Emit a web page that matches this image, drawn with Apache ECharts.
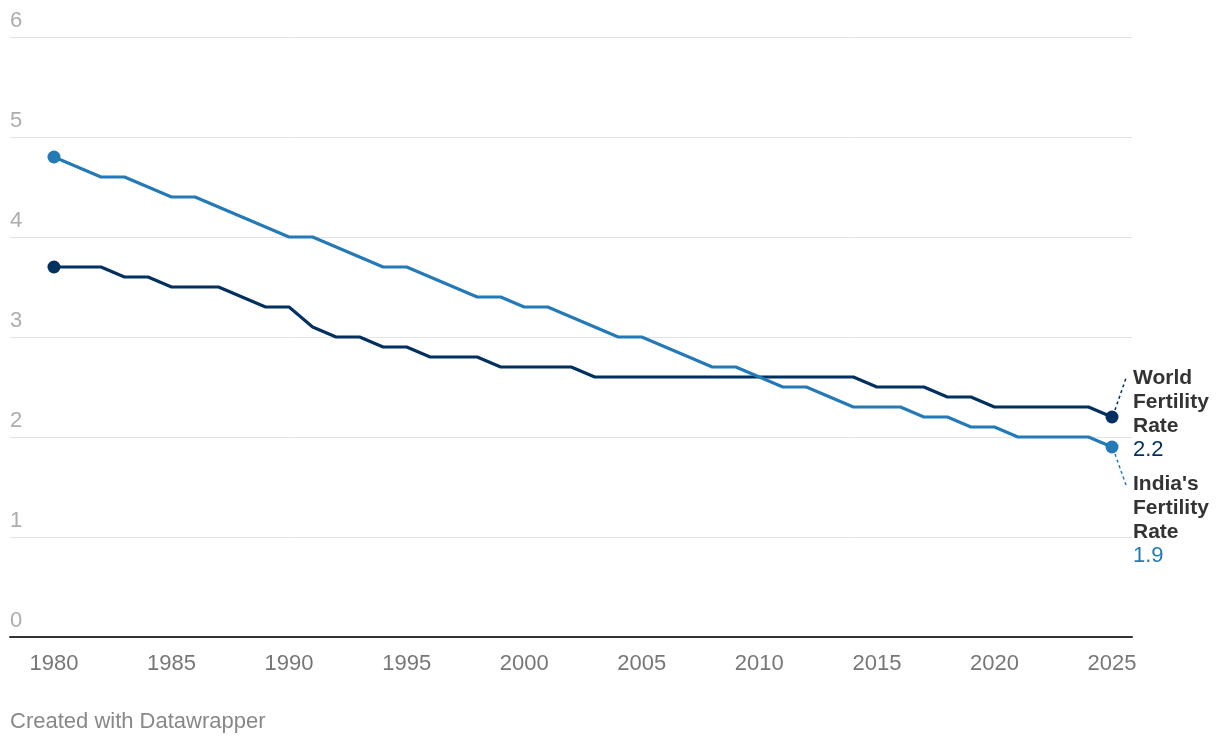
<!DOCTYPE html>
<html>
<head>
<meta charset="utf-8">
<script src="https://cdn.jsdelivr.net/npm/echarts@6/dist/echarts.min.js"></script>
<style>
html,body{margin:0;padding:0;background:#fff;}
#chart{width:1220px;height:746px;}
</style>
</head>
<body>
<div id="chart"></div>
<script>
const years = [1980,1981,1982,1983,1984,1985,1986,1987,1988,1989,1990,1991,1992,1993,1994,1995,1996,1997,1998,1999,2000,2001,2002,2003,2004,2005,2006,2007,2008,2009,2010,2011,2012,2013,2014,2015,2016,2017,2018,2019,2020,2021,2022,2023,2024,2025];
const worldRate = [3.7,3.7,3.7,3.6,3.6,3.5,3.5,3.5,3.4,3.3,3.3,3.1,3.0,3.0,2.9,2.9,2.8,2.8,2.8,2.7,2.7,2.7,2.7,2.6,2.6,2.6,2.6,2.6,2.6,2.6,2.6,2.6,2.6,2.6,2.6,2.5,2.5,2.5,2.4,2.4,2.3,2.3,2.3,2.3,2.3,2.2];
const indiaRate = [4.8,4.7,4.6,4.6,4.5,4.4,4.4,4.3,4.2,4.1,4.0,4.0,3.9,3.8,3.7,3.7,3.6,3.5,3.4,3.4,3.3,3.3,3.2,3.1,3.0,3.0,2.9,2.8,2.7,2.7,2.6,2.5,2.5,2.4,2.3,2.3,2.3,2.2,2.2,2.1,2.1,2.0,2.0,2.0,2.0,1.9];
const xTickLabels = [1980,1985,1990,1995,2000,2005,2010,2015,2020,2025];
const yTicks = [0,1,2,3,4,5,6];
const seriesNames = ["World\nFertility\nRate", "India's\nFertility\nRate"];

const FONT = "'Liberation Sans', Arial, Helvetica, sans-serif";
const WORLD_C = '#00305f';
const INDIA_C = '#2479b7';

function buildData(vals) {
  return vals.map((v, i) => ({
    value: [years[i], v],
    symbol: (i === 0 || i === vals.length - 1) ? 'circle' : 'none'
  }));
}

const chart = echarts.init(document.getElementById('chart'), null, {renderer: 'canvas'});
const option = {
  animation: false,
  backgroundColor: '#fff',
  grid: {left: 10, right: 88, top: 37, bottom: 109, containLabel: false},
  xAxis: {
    type: 'value',
    min: 1978.13,
    max: 2025.85,
    axisLine: {show: true, onZero: false, lineStyle: {color: '#333', width: 2}},
    axisTick: {show: false},
    splitLine: {show: false},
    axisLabel: {
      customValues: xTickLabels,
      color: '#777',
      fontSize: 22,
      fontFamily: FONT,
      margin: 16,
      formatter: v => String(v)
    }
  },
  yAxis: {
    type: 'value',
    min: yTicks[0],
    max: yTicks[yTicks.length - 1],
    interval: 1,
    axisLine: {show: false},
    axisTick: {show: false},
    splitLine: {show: true, lineStyle: {color: '#e3e3e3', width: 1}},
    axisLabel: {
      inside: true,
      margin: 0,
      align: 'left',
      verticalAlign: 'bottom',
      padding: [0, 0, 5, 0],
      color: '#adadad',
      fontSize: 22,
      fontFamily: FONT,
      showMinLabel: true,
      showMaxLabel: true
    }
  },
  series: [
    {
      name: 'World',
      type: 'line',
      data: buildData(worldRate),
      symbolSize: 13,
      showSymbol: true,
      lineStyle: {color: WORLD_C, width: 3},
      itemStyle: {color: WORLD_C},
      z: 3
    },
    {
      name: 'India',
      type: 'line',
      data: buildData(indiaRate),
      symbolSize: 13,
      showSymbol: true,
      lineStyle: {color: INDIA_C, width: 3},
      itemStyle: {color: INDIA_C},
      z: 4
    }
  ]
};
chart.setOption(option);

const last = years.length - 1;
const pW = chart.convertToPixel({gridIndex: 0}, [years[last], worldRate[last]]);
const pI = chart.convertToPixel({gridIndex: 0}, [years[last], indiaRate[last]]);
const LH = 24;
const tx = pW[0] + 21;
const wTop = pW[1] - 51;
const iTop = pI[1] + 25;

chart.setOption({
  graphic: [
    {type: 'line', shape: {x1: pW[0] + 3, y1: pW[1] - 7, x2: pW[0] + 14, y2: pW[1] - 39},
     style: {stroke: WORLD_C, lineWidth: 1.5, lineDash: [3, 3]}, z: 10},
    {type: 'line', shape: {x1: pI[0] + 3, y1: pI[1] + 7, x2: pI[0] + 14, y2: pI[1] + 38},
     style: {stroke: INDIA_C, lineWidth: 1.5, lineDash: [3, 3]}, z: 10},
    {type: 'text', left: tx, top: wTop,
     style: {text: seriesNames[0], fill: '#333', font: 'bold 21px ' + FONT, lineHeight: LH}, z: 10},
    {type: 'text', left: tx, top: wTop + 3 * LH,
     style: {text: String(worldRate[last].toFixed(1)), fill: WORLD_C, font: '22px ' + FONT, lineHeight: LH}, z: 10},
    {type: 'text', left: tx, top: iTop,
     style: {text: seriesNames[1], fill: '#333', font: 'bold 21px ' + FONT, lineHeight: LH}, z: 10},
    {type: 'text', left: tx, top: iTop + 3 * LH,
     style: {text: String(indiaRate[last].toFixed(1)), fill: INDIA_C, font: '22px ' + FONT, lineHeight: LH}, z: 10},
    {type: 'text', left: 10, top: 711,
     style: {text: 'Created with Datawrapper', fill: '#888', font: '22px ' + FONT}, z: 10}
  ]
});
</script>
</body>
</html>
